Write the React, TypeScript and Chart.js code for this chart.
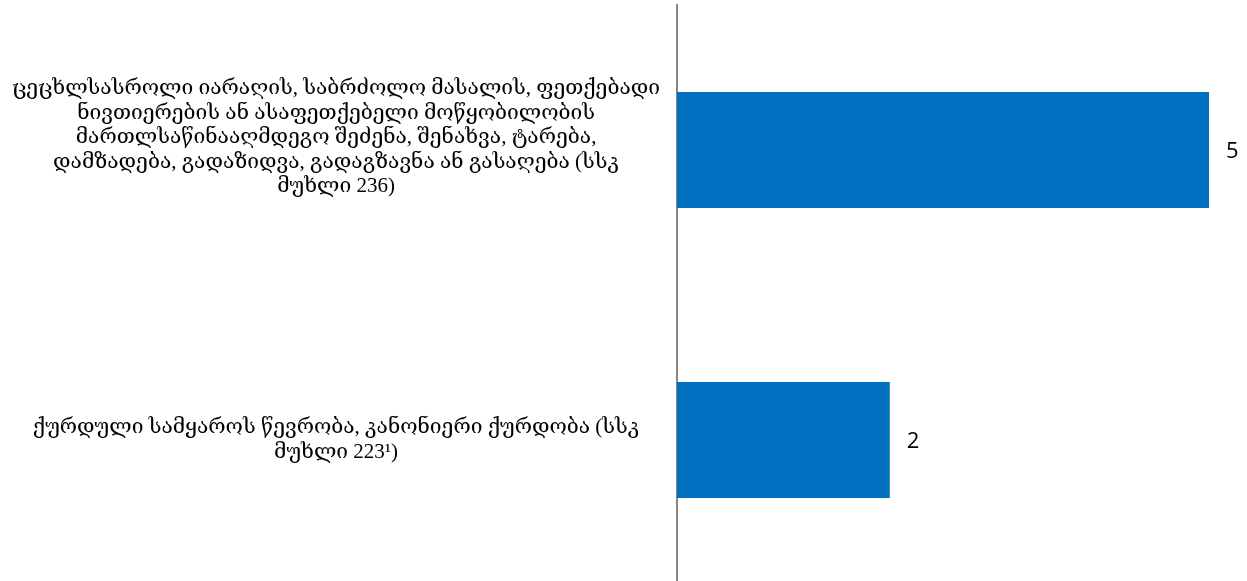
import React, { useEffect, useRef } from "react";
import { Chart, registerables } from "chart.js";

Chart.register(...registerables);

const categories: string[][] = [
  [
    "ცეცხლსასროლი იარაღის, საბრძოლო მასალის, ფეთქებადი",
    "ნივთიერების ან ასაფეთქებელი მოწყობილობის",
    "მართლსაწინააღმდეგო შეძენა, შენახვა, ტარება,",
    "დამზადება, გადაზიდვა, გადაგზავნა ან გასაღება (სსკ",
    "მუხლი 236)",
    "",
  ],
  [
    "ქურდული სამყაროს წევრობა, კანონიერი ქურდობა (სსკ",
    "მუხლი 223¹)",
  ],
];
const values: number[] = [5, 2];
const xMin = 0;
const xMax = 5;

const valueLabels = {
  id: "valueLabels",
  afterDatasetsDraw(chart: any) {
    const ctx = chart.ctx;
    const meta = chart.getDatasetMeta(0);
    ctx.save();
    ctx.font = "22px 'Open Sans', sans-serif";
    ctx.fillStyle = "#000000";
    ctx.textAlign = "left";
    ctx.textBaseline = "middle";
    meta.data.forEach((bar: any, i: number) => {
      ctx.fillText(String(values[i]), bar.x + 17, bar.y + 2);
    });
    ctx.restore();
  },
};

export default function App() {
  const ref = useRef<HTMLCanvasElement | null>(null);
  useEffect(() => {
    if (!ref.current) return;
    const chart = new Chart(ref.current, {
      type: "bar",
      data: {
        labels: categories,
        datasets: [
          {
            data: values,
            backgroundColor: "#0070C0",
            borderWidth: 0,
            categoryPercentage: 1,
            barPercentage: 0.4,
          },
        ],
      },
      options: {
        indexAxis: "y",
        animation: false,
        responsive: true,
        maintainAspectRatio: false,
        layout: { padding: { top: 5, bottom: 5, left: 0, right: 38 } },
        plugins: {
          legend: { display: false },
          tooltip: { enabled: false },
        },
        scales: {
          x: {
            display: false,
            min: xMin,
            max: xMax,
          },
          y: {
            grid: { display: false, drawTicks: false },
            border: { display: true, color: "#878787", width: 2 },
            afterFit: (scale: any) => {
              scale.width = 677;
              scale.paddingTop = 0;
              scale.paddingBottom = 0;
            },
            ticks: {
              crossAlign: "center",
              padding: 17,
              color: "#000000",
              font: { family: "'Liberation Serif', 'DejaVu Serif', serif", size: 21, lineHeight: 1.17 },
            },
          },
        },
      },
      plugins: [valueLabels],
    });
    return () => chart.destroy();
  }, []);
  return (
    <div style={{ position: "fixed", left: 0, top: 0, width: 1247, height: 581, overflow: "hidden", background: "#fff" }}>
      <div style={{ position: "relative", width: 1247, height: 590 }}>
        <canvas ref={ref} />
      </div>
    </div>
  );
}
